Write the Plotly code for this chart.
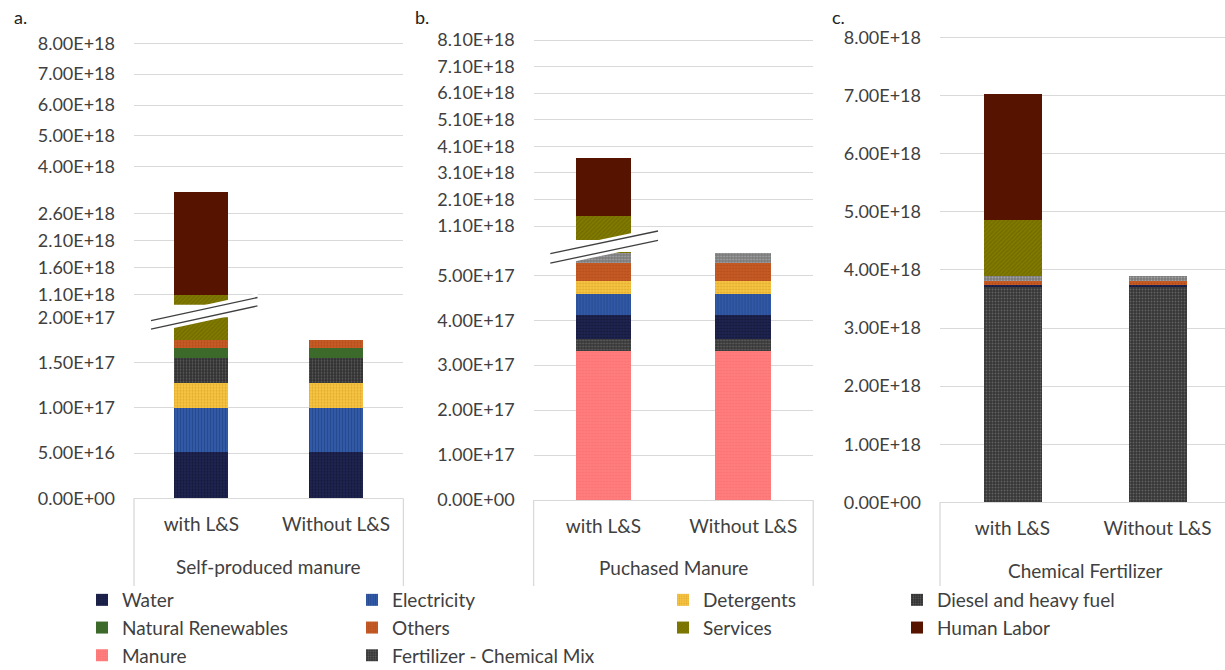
import plotly.graph_objects as go

# ---- data -------------------------------------------------------------
scenarios = ["with L&S", "Without L&S"]
groups = ["Self-produced manure", "Puchased Manure", "Chemical Fertilizer"]
panel_letters = ["a.", "b.", "c."]

# a. Self-produced manure (stack order bottom -> top)
a_water = [5.15e16, 5.15e16]
a_electricity = [4.80e16, 4.80e16]
a_detergents = [2.83e16, 2.83e16]
a_diesel = [2.73e16, 2.73e16]
a_renewables = [1.10e16, 1.10e16]
a_others = [0.85e16, 0.85e16]
a_services = [9.25e17, 0]
a_labor = [1.89e18, 0]

# b. Purchased manure
b_manure = [3.32e17, 3.32e17]
b_fertilizer = [2.67e16, 2.67e16]
b_water = [5.27e16, 5.27e16]
b_electricity = [4.81e16, 4.81e16]
b_detergents = [2.83e16, 2.83e16]
b_others = [4.00e16, 4.00e16]
b_diesel = [2.10e16, 2.10e16]
b_services = [9.16e17, 0]
b_labor = [2.18e18, 0]

# c. Chemical fertilizer
c_fertilizer = [3.70e18, 3.70e18]
c_water = [0.04e18, 0.04e18]
c_others = [0.074e18, 0.074e18]
c_diesel = [0.075e18, 0.075e18]
c_services = [0.964e18, 0]
c_labor = [2.176e18, 0]

# tick labels
a_low_ticks = [0, 5e16, 1e17, 1.5e17, 2e17]
a_low_text = ["0.00E+00", "5.00E+16", "1.00E+17", "1.50E+17", "2.00E+17"]
a_mid_ticks = [1.1e18, 1.6e18, 2.1e18, 2.6e18]
a_mid_text = ["1.10E+18", "1.60E+18", "2.10E+18", "2.60E+18"]
a_top_ticks = [4e18, 5e18, 6e18, 7e18, 8e18]
a_top_text = ["4.00E+18", "5.00E+18", "6.00E+18", "7.00E+18", "8.00E+18"]
b_low_ticks = [0, 1e17, 2e17, 3e17, 4e17, 5e17]
b_low_text = ["0.00E+00", "1.00E+17", "2.00E+17", "3.00E+17", "4.00E+17", "5.00E+17"]
b_up_ticks = [1.1e18, 2.1e18, 3.1e18, 4.1e18, 5.1e18, 6.1e18, 7.1e18, 8.1e18]
b_up_text = ["1.10E+18", "2.10E+18", "3.10E+18", "4.10E+18",
             "5.10E+18", "6.10E+18", "7.10E+18", "8.10E+18"]
c_ticks = [0, 1e18, 2e18, 3e18, 4e18, 5e18, 6e18, 7e18, 8e18]
c_text = ["0.00E+00", "1.00E+18", "2.00E+18", "3.00E+18", "4.00E+18",
          "5.00E+18", "6.00E+18", "7.00E+18", "8.00E+18"]

# ---- styling ----------------------------------------------------------
W, H = 1225, 670
FONT = "Lato"
TXT = "#404040"
GRID = "#d9d9d9"


def px(x):
    return x / W


def py(y):
    return 1 - y / H


def pat(bg, fg=None, shape="", size=3, solidity=0.3):
    m = dict(color=bg, line=dict(width=0))
    if fg:
        m["pattern"] = dict(shape=shape, fgcolor=fg, bgcolor=bg, size=size,
                            solidity=solidity, fillmode="overlay")
    return m


STYLE = {
    "Water": pat("#1e2450", "#080b20", ".", 3, 0.35),
    "Electricity": pat("#3159a6", "#1b3a78", "|", 3, 0.3),
    "Detergents": pat("#f6c443", "#c98d14", ".", 3, 0.3),
    "Diesel and heavy fuel": pat("#303030", "#8a8a8a", ".", 3, 0.3),
    "Natural Renewables": pat("#3b6a2b"),
    "Others": pat("#c65b25", "#9c3f12", ".", 3, 0.3),
    "Services": pat("#807a00", "#5a5300", "/", 3, 0.3),
    "Human Labor": pat("#561400"),
    "Manure": pat("#ff7d7d", "#f26565", ".", 3, 0.25),
    "Fertilizer - Chemical Mix": pat("#363636", "#8c8c8c", ".", 3, 0.3),
}
DIESEL_LIGHT = pat("#7a7a7a", "#cfcfcf", ".", 3, 0.3)

LEGEND_COL = {
    "Water": "legend", "Natural Renewables": "legend", "Manure": "legend",
    "Electricity": "legend2", "Others": "legend2",
    "Fertilizer - Chemical Mix": "legend2",
    "Detergents": "legend3", "Services": "legend3",
    "Diesel and heavy fuel": "legend4", "Human Labor": "legend4",
}

panel_a = [("Water", a_water), ("Electricity", a_electricity),
           ("Detergents", a_detergents), ("Diesel and heavy fuel", a_diesel),
           ("Natural Renewables", a_renewables), ("Others", a_others),
           ("Services", a_services), ("Human Labor", a_labor)]
panel_b = [("Manure", b_manure), ("Fertilizer - Chemical Mix", b_fertilizer),
           ("Water", b_water), ("Electricity", b_electricity),
           ("Detergents", b_detergents), ("Others", b_others),
           ("Diesel and heavy fuel", b_diesel), ("Services", b_services),
           ("Human Labor", b_labor)]
panel_c = [("Fertilizer - Chemical Mix", c_fertilizer), ("Water", c_water),
           ("Others", c_others), ("Diesel and heavy fuel", c_diesel),
           ("Services", c_services), ("Human Labor", c_labor)]

fig = go.Figure()
shown = set()


def add_stack(stack, xa, yaxes, light_diesel=False):
    for ya in yaxes:
        for name, vals in stack:
            marker = STYLE[name]
            if light_diesel and name == "Diesel and heavy fuel":
                marker = DIESEL_LIGHT
            first = name not in shown
            shown.add(name)
            fig.add_trace(go.Bar(
                x=scenarios, y=vals, name=name, xaxis=xa, yaxis=ya,
                marker=marker, showlegend=first, legend=LEGEND_COL[name],
                legendgroup=name, hovertemplate="%{x}: %{y:.2E}<extra>" + name + "</extra>"))


add_stack(panel_a, "x", ["y", "y2"])
add_stack(panel_b, "x2", ["y4", "y5"], light_diesel=True)
add_stack(panel_c, "x3", ["y6"], light_diesel=True)
# invisible carrier so the overlaid 4E+18..8E+18 scale is drawn
fig.add_trace(go.Scatter(x=[scenarios[0]], y=[None], xaxis="x", yaxis="y3",
                         showlegend=False, hoverinfo="skip"))

tickfont = dict(family=FONT, size=18, color=TXT)


def yax(domain, rng, tv, tt, anchor, **kw):
    d = dict(domain=domain, range=rng, tickvals=tv, ticktext=tt, anchor=anchor,
             showgrid=True, gridcolor=GRID, gridwidth=1.3, zeroline=False,
             showline=False, ticks="", tickfont=tickfont, ticklabelstandoff=18,
             fixedrange=True, automargin=False)
    d.update(kw)
    return d


def xax(domain, anchor, rng=(-0.5, 1.5)):
    return dict(domain=domain, anchor=anchor, type="category", range=list(rng),
                showline=True, linecolor=GRID, linewidth=1.3, showgrid=False,
                ticks="", tickfont=dict(family=FONT, size=19, color=TXT),
                ticklabelstandoff=9, fixedrange=True, automargin=False)


# pixel geometry of each panel
A_L, A_R = 134, 403.4
B_L, B_R = 533.6, 813.2
C_L = 940

# a: lower 0..2E+17, upper scale 54.27 px per 1E+18, overlaid 4..8 scale 30.85 px
a_up_px = 54.27
a_top_px = 30.85
fig.update_layout(
    xaxis=xax([px(A_L), px(A_R)], "y"),
    yaxis=yax([py(498.3), py(317.3)], [0, 2e17], a_low_ticks, a_low_text, "x"),
    yaxis2=yax([py(304.7), py(30)],
               [1.1e18 - (304.7 - 294.7) / a_up_px * 1e18,
                1.1e18 + (294.7 - 30) / a_up_px * 1e18],
               a_mid_ticks, a_mid_text, "x"),
    yaxis3=yax([py(304.7), py(30)],
               [4e18 - (304.7 - 166.7) / a_top_px * 1e18,
                8e18 + (43.3 - 30) / a_top_px * 1e18],
               a_top_ticks, a_top_text, "x", overlaying="y2"),
    xaxis2=xax([px(B_L), px(B_R)], "y4"),
    yaxis4=yax([py(500), py(252)], [0, (500 - 252) / 44.94 * 1e17],
               b_low_ticks, b_low_text, "x2"),
    yaxis5=yax([py(240), py(30)],
               [1.1e18 - (240 - 226) / 26.57 * 1e18,
                1.1e18 + (226 - 30) / 26.57 * 1e18],
               b_up_ticks, b_up_text, "x2"),
    xaxis3=xax([px(C_L), 1.0], "y6", (-0.5, -0.5 + (W - C_L) / 145)),
    yaxis6=yax([py(502.3), py(30)], [0, (502.3 - 30) / 58.1 * 1e18],
               c_ticks, c_text, "x3"),
)

shapes = []


def brk(x1, y1a, x2, y2a, dy, pad):
    # white band + two slanted break strokes
    path = (f"M{px(x1)},{py(y1a - pad)} L{px(x2)},{py(y2a - pad)} "
            f"L{px(x2)},{py(y2a + dy + pad)} L{px(x1)},{py(y1a + dy + pad)} Z")
    shapes.append(dict(type="path", path=path, xref="paper", yref="paper",
                       fillcolor="white", line=dict(width=0), layer="above"))
    for off in (0, dy):
        shapes.append(dict(type="line", xref="paper", yref="paper",
                           x0=px(x1), y0=py(y1a + off), x1=px(x2), y1=py(y2a + off),
                           line=dict(color="#404040", width=1.3), layer="above"))


brk(151, 320.7, 257.5, 297.5, 8.4, 4)
brk(550.3, 253.7, 658, 231, 9.4, 3.5)

# category boxes
for xl in (A_L, A_R, B_L, B_R, C_L):
    y0 = 498.3 if xl in (A_L, A_R) else (500 if xl in (B_L, B_R) else 502.3)
    shapes.append(dict(type="line", xref="paper", yref="paper",
                       x0=px(xl), x1=px(xl), y0=py(y0), y1=py(586),
                       line=dict(color=GRID, width=1.3)))

annotations = []
for (x, y), t in zip([(12, 17), (413, 17), (830, 17)], panel_letters):
    annotations.append(dict(x=px(x), y=py(y), xref="paper", yref="paper", text=t,
                            showarrow=False, xanchor="left", yanchor="middle",
                            font=dict(family=FONT, size=18, color="#222")))
for (x, y), t in zip([((A_L + A_R) / 2, 566), ((B_L + B_R) / 2, 567),
                      ((C_L + 1230) / 2, 570)], groups):
    annotations.append(dict(x=px(x), y=py(y), xref="paper", yref="paper", text=t,
                            showarrow=False, xanchor="center", yanchor="middle",
                            font=dict(family=FONT, size=19, color=TXT)))


def leg(x):
    return dict(x=px(x), y=py(581), xanchor="left", yanchor="top",
                orientation="v", traceorder="grouped", tracegroupgap=0,
                bgcolor="rgba(0,0,0,0)", itemwidth=30,
                font=dict(family=FONT, size=19, color=TXT))


fig.update_layout(
    width=W, height=H, margin=dict(l=0, r=0, t=0, b=0, autoexpand=False),
    paper_bgcolor="white", plot_bgcolor="white",
    barmode="stack", bargap=0.6,
    shapes=shapes, annotations=annotations,
    legend=leg(82), legend2=leg(352), legend3=leg(663), legend4=leg(897),
    font=dict(family=FONT, color=TXT),
)

fig.write_html("out.html")
